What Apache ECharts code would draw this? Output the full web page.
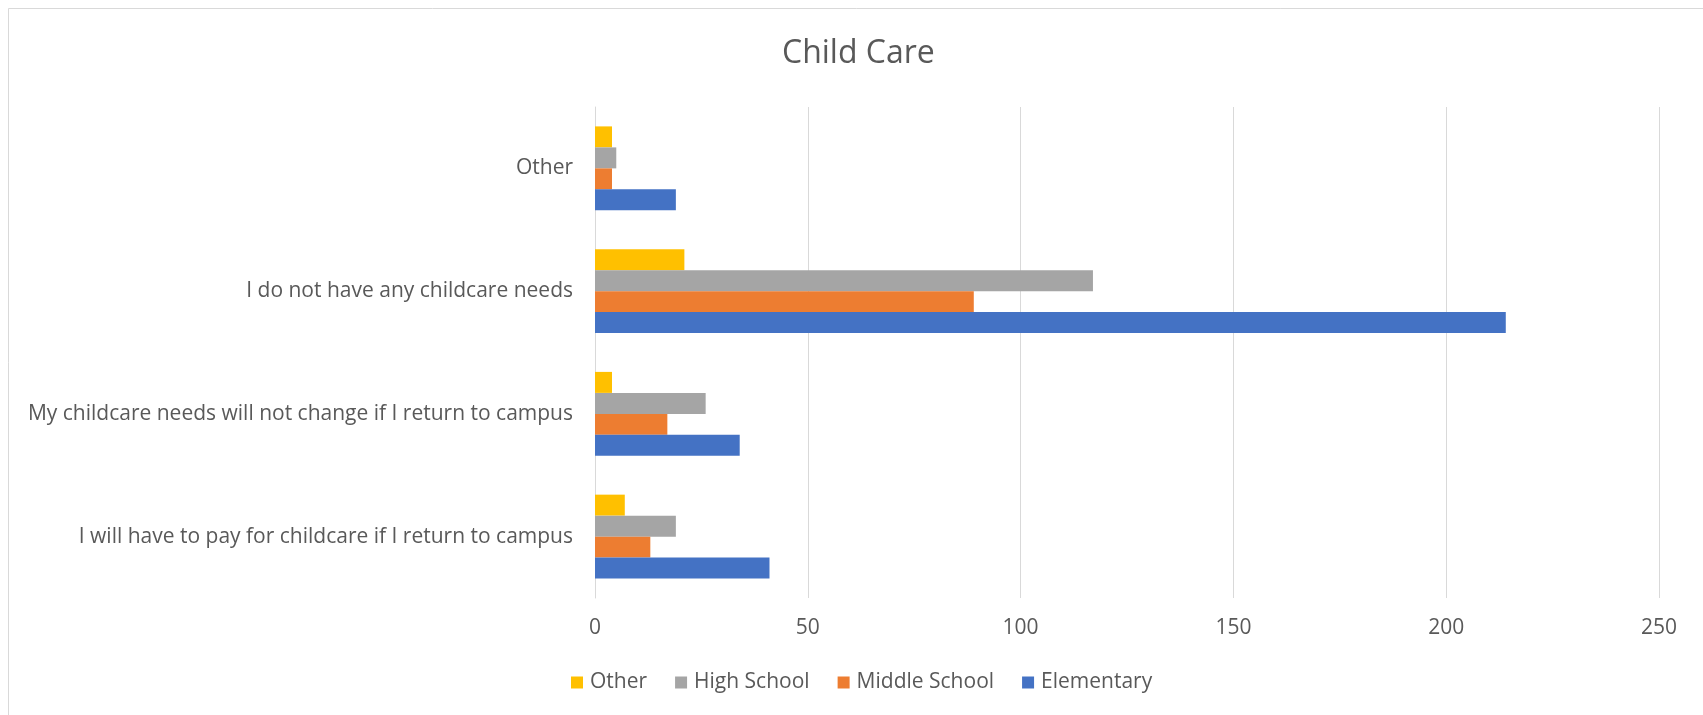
<!DOCTYPE html>
<html>
<head>
<meta charset="utf-8">
<script src="https://cdn.jsdelivr.net/npm/echarts@6/dist/echarts.min.js"></script>
<style>
html,body{margin:0;padding:0;background:#fff;}
#chart{width:1703px;height:715px;}
</style>
</head>
<body>
<div id="chart"></div>
<script>
// Categories listed bottom to top
var categories = [
  "I will have to pay for childcare if I return to campus",
  "My childcare needs will not change if I return to campus",
  "I do not have any childcare needs",
  "Other"
];
var seriesNames = ["Other", "High School", "Middle School", "Elementary"];
var otherValues = [7, 4, 21, 4];
var highSchoolValues = [19, 26, 117, 5];
var middleSchoolValues = [13, 17, 89, 4];
var elementaryValues = [41, 34, 214, 19];
var xTicks = [0, 50, 100, 150, 200, 250];
var colors = ["#FFC000", "#A5A5A5", "#ED7D31", "#4472C4"];

var seriesData = [otherValues, highSchoolValues, middleSchoolValues, elementaryValues];
var FONT = "Open Sans";
var TEXT = "#595959";

var chart = echarts.init(document.getElementById('chart'), null, {renderer: 'canvas'});
var option = {
  backgroundColor: '#fff',
  animation: false,
  title: {
    text: 'Child Care',
    left: 777,
    top: 33,
    textStyle: {fontFamily: FONT, fontSize: 32, fontWeight: 'normal', color: TEXT}
  },
  graphic: [{
    type: 'rect',
    shape: {x: 8.5, y: 8.5, width: 1760, height: 760},
    style: {fill: 'none', stroke: '#D9D9D9', lineWidth: 1},
    silent: true
  }],
  legend: {
    data: seriesNames,
    left: 566,
    top: 667,
    icon: 'rect',
    itemWidth: 12,
    itemHeight: 12,
    itemGap: 28,
    textStyle: {fontFamily: FONT, fontSize: 21, color: TEXT, padding: [0, 0, 0, 2]}
  },
  grid: {left: 595, right: 44, top: 107, bottom: 117, containLabel: false},
  xAxis: {
    type: 'value',
    min: xTicks[0],
    max: xTicks[xTicks.length - 1],
    interval: xTicks[1] - xTicks[0],
    axisLine: {show: false},
    axisTick: {show: false},
    splitLine: {show: true, lineStyle: {color: '#D9D9D9', width: 1}},
    axisLabel: {fontFamily: FONT, fontSize: 21, color: TEXT, margin: 20}
  },
  yAxis: {
    type: 'category',
    data: categories,
    axisLine: {show: true, lineStyle: {color: '#D9D9D9', width: 1}},
    axisTick: {show: false},
    axisLabel: {fontFamily: FONT, fontSize: 21, color: TEXT, margin: 22}
  },
  series: seriesNames.map(function (name, i) {
    return {
      name: name,
      type: 'bar',
      data: seriesData[i],
      barGap: '0%',
      barCategoryGap: '31.6%',
      itemStyle: {color: colors[i]}
    };
  })
};
chart.setOption(option);
</script>
</body>
</html>
